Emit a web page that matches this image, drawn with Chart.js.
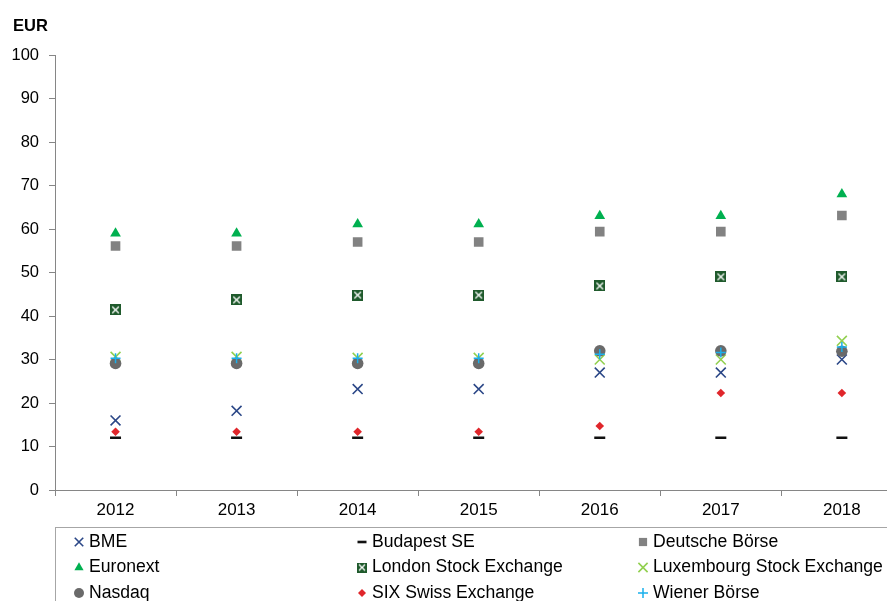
<!DOCTYPE html>
<html>
<head>
<meta charset="utf-8">
<script src="https://cdn.jsdelivr.net/npm/chart.js@4/dist/chart.umd.min.js"></script>
<style>
  html, body { margin: 0; padding: 0; background: #fff; overflow: hidden; }
  #wrap { width: 887px; height: 601px; overflow: hidden; position: relative; }
  #wrap canvas { position: absolute; left: 0; top: 0; }
</style>
</head>
<body>
<div id="wrap"><canvas id="c" width="911" height="601" style="width:911px;height:601px"></canvas></div>
<script>
// ---- data ----
const years = ['2012', '2013', '2014', '2015', '2016', '2017', '2018'];
const yTicks = [0, 10, 20, 30, 40, 50, 60, 70, 80, 90, 100];
const seriesNames = ['BME', 'Budapest SE', 'Deutsche Börse', 'Euronext', 'London Stock Exchange',
  'Luxembourg Stock Exchange', 'Nasdaq', 'SIX Swiss Exchange', 'Wiener Börse'];
const bme      = [16, 18.2, 23.2, 23.2, 27, 27, 30];
const budapest = [12, 12, 12, 12, 12, 12, 12];
const deutsche = [56.1, 56.1, 57, 57, 59.4, 59.4, 63.1];
const euronext = [59, 59, 61.1, 61.1, 63, 63, 68];
const lse      = [41.4, 43.7, 44.8, 44.8, 46.9, 49, 49];
const lux      = [30.6, 30.6, 30.4, 30.4, 30, 30, 34.3];
const nasdaq   = [29.1, 29.1, 29.1, 29.1, 32, 32, 31.9];
const six      = [13.4, 13.4, 13.4, 13.4, 14.7, 22.3, 22.3];
const wiener   = [30.3, 30.3, 30.3, 30.3, 31.2, 31.6, 32.9];

// ---- custom marker for LSE ----
function lseMarker(size) {
  const cv = document.createElement('canvas');
  cv.width = size; cv.height = size;
  const g = cv.getContext('2d');
  g.fillStyle = '#1f5a2c';
  g.fillRect(0, 0, size, size);
  g.strokeStyle = '#ffffff';
  g.lineWidth = 1.3;
  const m = size * 0.2;
  g.beginPath();
  g.moveTo(m, m); g.lineTo(size - m, size - m);
  g.moveTo(size - m, m); g.lineTo(m, size - m);
  g.stroke();
  return cv;
}
const lseBig = lseMarker(11);
const lseSmall = lseMarker(10);

const styles = [
  { pointStyle: 'crossRot', radius: 7, color: '#2b4787', bw: 1.6, lr: 6 },
  { pointStyle: 'line', radius: 5.5, color: '#111111', bw: 2.6, lr: 4.5 },
  { pointStyle: 'rect', radius: 6.8, color: '#828282', bw: 0, lr: 5.8 },
  { pointStyle: 'triangle', radius: 6.2, color: '#00b050', bw: 0, lr: 5.3 },
  { pointStyle: lseBig, legendStyle: lseSmall, radius: 6, color: '#1f5a2c', bw: 0, lr: 5 },
  { pointStyle: 'crossRot', radius: 7, color: '#92d050', bw: 1.6, lr: 6.5 },
  { pointStyle: 'circle', radius: 5.8, color: '#6a6a6a', bw: 0, lr: 5 },
  { pointStyle: 'rectRot', radius: 4.3, color: '#e0262b', bw: 0, lr: 4 },
  { pointStyle: 'cross', radius: 5, color: '#1ab0ec', bw: 1.5, lr: 5 }
];
const values = [bme, budapest, deutsche, euronext, lse, lux, nasdaq, six, wiener];

const datasets = values.map((v, i) => ({
  label: seriesNames[i],
  data: v,
  showLine: false,
  pointStyle: styles[i].pointStyle,
  pointRadius: styles[i].radius,
  pointHoverRadius: styles[i].radius,
  pointBackgroundColor: styles[i].color,
  pointBorderColor: styles[i].color,
  pointBorderWidth: styles[i].bw,
  backgroundColor: styles[i].color,
  borderColor: styles[i].color,
  order: values.length - 1 - i
}));

const FONT = '"Liberation Sans", Arial, sans-serif';

const decor = {
  id: 'decor',
  afterDraw(chart) {
    const ctx = chart.ctx;
    ctx.save();
    // EUR label
    ctx.fillStyle = '#000';
    ctx.font = 'bold 16.5px ' + FONT;
    ctx.textBaseline = 'alphabetic';
    ctx.textAlign = 'left';
    ctx.fillText('EUR', 13, 31);
    // legend box
    ctx.strokeStyle = '#a6a6a6';
    ctx.lineWidth = 1;
    ctx.strokeRect(55.5, 527.5, 900, 120);
    // legend items
    const colMarker = [79, 362, 643];
    const colText = [89, 372, 653];
    const rowY = [542, 567.5, 593];
    ctx.font = '17.6px ' + FONT;
    ctx.textBaseline = 'middle';
    for (let i = 0; i < seriesNames.length; i++) {
      const col = i % 3, row = Math.floor(i / 3);
      const st = styles[i];
      const x = colMarker[col], y = rowY[row];
      ctx.save();
      ctx.fillStyle = st.color;
      ctx.strokeStyle = st.color;
      ctx.lineWidth = st.bw;
      const ps = st.legendStyle || st.pointStyle;
      if (Chart.helpers && Chart.helpers.drawPoint) {
        Chart.helpers.drawPoint(ctx, { pointStyle: ps, radius: st.lr, rotation: 0, borderWidth: st.bw }, x, y);
      } else if (ps instanceof HTMLCanvasElement) {
        ctx.drawImage(ps, x - ps.width / 2, y - ps.height / 2);
      } else {
        ctx.beginPath(); ctx.arc(x, y, st.lr, 0, Math.PI * 2); ctx.fill();
      }
      ctx.restore();
      ctx.fillStyle = '#000';
      ctx.fillText(seriesNames[i], colText[col], y);
    }
    ctx.restore();
  }
};

new Chart(document.getElementById('c'), {
  type: 'line',
  data: { labels: years, datasets },
  options: {
    responsive: false,
    animation: false,
    devicePixelRatio: 1,
    events: [],
    layout: { padding: { left: 0, right: 3, top: 55, bottom: 0 } },
    plugins: { legend: { display: false }, tooltip: { enabled: false }, title: { display: false } },
    scales: {
      x: {
        type: 'category',
        offset: true,
        grid: { offset: true, drawOnChartArea: false, drawTicks: true, tickLength: 6, color: '#868686' },
        border: { display: true, color: '#868686', width: 1 },
        ticks: { color: '#000', font: { family: FONT, size: 17 }, padding: 4, maxRotation: 0, autoSkip: false },
        afterFit(s) { s.height = 111; }
      },
      y: {
        min: 0, max: 100,
        afterBuildTicks(s) { s.ticks = yTicks.map(v => ({ value: v })); },
        grid: { drawOnChartArea: false, drawTicks: true, tickLength: 6, color: '#868686' },
        border: { display: true, color: '#868686', width: 1 },
        ticks: { color: '#000', font: { family: FONT, size: 16.5 }, padding: 10 },
        afterFit(s) { s.width = 55; }
      }
    }
  },
  plugins: [decor]
});
</script>
</body>
</html>
